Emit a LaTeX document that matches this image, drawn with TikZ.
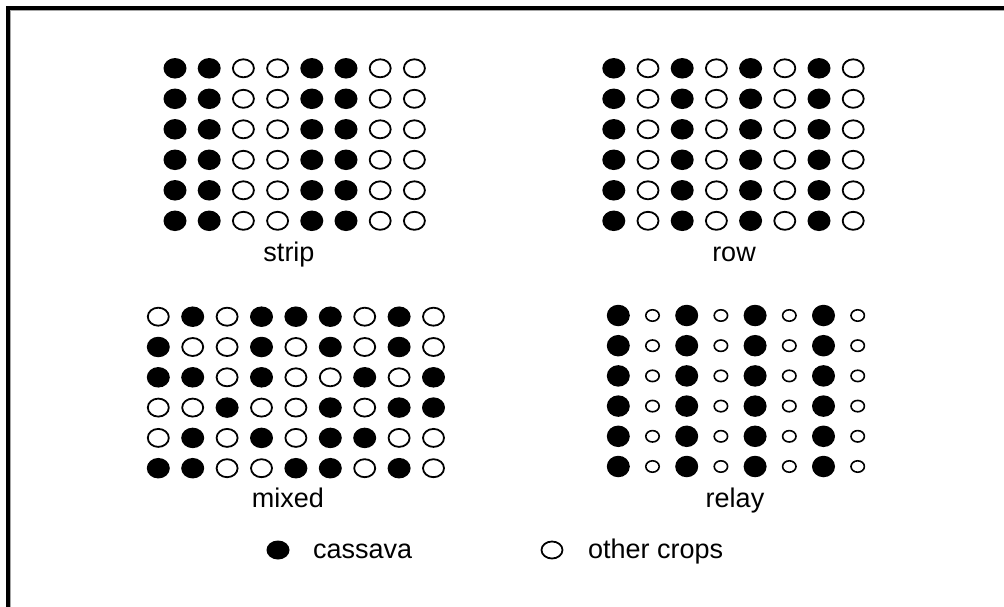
\documentclass[tikz,border=0pt]{standalone}
\usepackage{fontspec}
\setmainfont{Liberation Sans}
\usetikzlibrary{shapes.geometric}
\begin{document}
\begin{tikzpicture}[x=1pt,y=-1pt,
  fil/.style={ellipse, fill=black, minimum width=23pt, minimum height=20.5pt, inner sep=0pt},
  opn/.style={ellipse, draw=black, line width=1.8pt, fill=white, minimum width=21pt, minimum height=18pt, inner sep=0pt},
  bigfil/.style={ellipse, fill=black, minimum width=23pt, minimum height=21.5pt, inner sep=0pt},
  smallopn/.style={ellipse, draw=black, line width=1.6pt, fill=white, minimum width=13.4pt, minimum height=11.4pt, inner sep=0pt},
  lbl/.style={font=\fontsize{27}{30}\selectfont, inner sep=0pt, anchor=base}]
\useasboundingbox (0,0) rectangle (1004,607);
\fill[white] (0,0) rectangle (1004,607);
% frame
\draw[gray!70, line width=1pt] (10.5,607) -- (10.5,10.5) -- (1004,10.5);
\draw[black, line width=4pt] (8,607) -- (8,8.5) -- (1004,8.5);
% strip
\foreach \i in {0,...,5} {
  \foreach \v [count=\j from 0] in {1,1,0,0,1,1,0,0} {
    \ifnum\v=1
      \node[fil] (s-\i-\j) at ({175+34.2*\j},{68.3+30.5*\i}) {};
    \else
      \node[opn] (s-\i-\j) at ({175+34.2*\j},{68.3+30.5*\i}) {};
    \fi
  }
}
\node[lbl] (striplbl) at (289,261) {strip};
% row
\foreach \i in {0,...,5} {
  \foreach \v [count=\j from 0] in {1,0,1,0,1,0,1,0} {
    \ifnum\v=1
      \node[fil] (r-\i-\j) at ({613.8+34.2*\j},{68.3+30.5*\i}) {};
    \else
      \node[opn] (r-\i-\j) at ({613.8+34.2*\j},{68.3+30.5*\i}) {};
    \fi
  }
}
\node[lbl] (rowlbl) at (734,261) {row};
% mixed
\foreach \rw [count=\i from 0] in {{0,1,0,1,1,1,0,1,0},{1,0,0,1,0,1,0,1,0},{1,1,0,1,0,0,1,0,1},{0,0,1,0,0,1,0,1,1},{0,1,0,1,0,1,1,0,0},{1,1,0,0,1,1,0,1,0}} {
  \foreach \v [count=\j from 0] in \rw {
    \ifnum\v=1
      \node[fil] (m-\i-\j) at ({158.3+34.4*\j},{316.7+30.3*\i}) {};
    \else
      \node[opn] (m-\i-\j) at ({158.3+34.4*\j},{316.7+30.3*\i}) {};
    \fi
  }
}
\node[lbl] (mixedlbl) at (288,507) {mixed};
% relay
\foreach \i in {0,...,5} {
  \foreach \v [count=\j from 0] in {1,0,1,0,1,0,1,0} {
    \ifnum\v=1
      \node[bigfil] (y-\i-\j) at ({618.3+34.2*\j},{315.5+30.2*\i}) {};
    \else
      \node[smallopn] (y-\i-\j) at ({618.3+34.2*\j},{315.5+30.2*\i}) {};
    \fi
  }
}
\node[lbl] (relaylbl) at (735,507) {relay};
% legend
\node[fil, minimum height=19pt] (legc) at (278,550) {};
\node[lbl, anchor=base west] (legctxt) at (313,558) {cassava};
\node[opn, minimum height=17pt] (lego) at (552,550) {};
\node[lbl, anchor=base west] (legotxt) at (588,558) {other crops};
\end{tikzpicture}
\end{document}
